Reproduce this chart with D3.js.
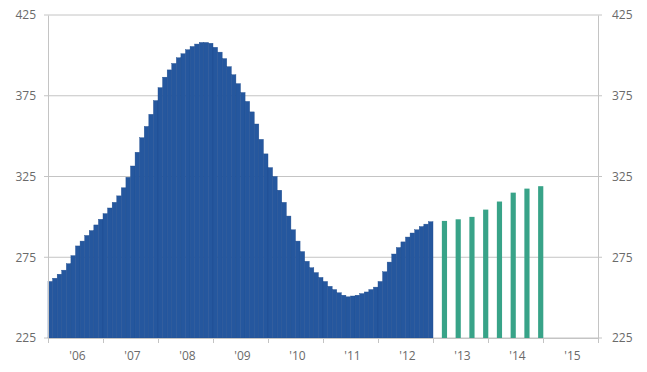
<!DOCTYPE html>
<html>
<head>
<meta charset="utf-8">
<script src="https://cdn.jsdelivr.net/npm/d3@7"></script>
<style>
  html, body { margin: 0; padding: 0; background: #fff; }
  svg { display: block; }
  .tick text { font-family: "Open Sans", "Liberation Sans", sans-serif; }
</style>
</head>
<body>
<svg id="chart" width="647" height="372"></svg>
<script>
// ---- data ----
// Monthly actuals, Jan 2006 .. Dec 2012
const actualValues = [
  260, 262, 264.5, 267, 271, 276, 282, 285, 288.5, 291.5, 295, 298.5,
  302, 305.5, 309, 313, 318, 324.5, 331.5, 340, 349, 356, 363.5, 372,
  380, 386.5, 391, 395, 398.5, 401, 403.5, 405.5, 407, 408, 408, 407.5,
  405, 402, 398, 393, 388, 382.5, 377, 371.5, 365, 357.5, 348, 339,
  330.5, 325, 316.5, 309, 300.5, 292, 285, 278.5, 272.5, 268.5, 265.5, 262.5,
  260, 257, 255, 253, 251.5, 250.5, 251, 251.5, 252.5, 253.5, 255, 256.5,
  260, 266, 272, 277, 281, 284.5, 287.5, 290, 292, 294, 295.5, 297
];
// Quarterly forecasts, 2013 Q1 .. 2014 Q4 (placed at quarter-end months)
const forecastMonths = [86, 89, 92, 95, 98, 101, 104, 107];
const forecastValues = [297.5, 298.5, 300, 304.5, 309.5, 315, 317.5, 319];
const years = [2006, 2007, 2008, 2009, 2010, 2011, 2012, 2013, 2014, 2015];
const yearLabels = ["'06", "'07", "'08", "'09", "'10", "'11", "'12", "'13", "'14", "'15"];
const yTicks = [225, 275, 325, 375, 425];

// ---- layout ----
const mLeft = 48, mRight = 598, mTop = 15, mBottom = 338;
const svg = d3.select("#chart");

const x = d3.scaleBand().domain(d3.range(120)).range([mLeft, mRight]).padding(0);
const xYear = d3.scaleLinear().domain([2006, 2016]).range([mLeft, mRight]);
const y = d3.scaleLinear().domain([225, 425]).range([mBottom, mTop]);

const gridColor = "#c4c4c4";
const textColor = "#6a6a6a";

// gridlines
svg.append("g")
  .selectAll("line")
  .data(yTicks)
  .join("line")
  .attr("x1", mLeft - 4).attr("x2", mRight + 4)
  .attr("y1", d => y(d)).attr("y2", d => y(d))
  .attr("stroke", gridColor).attr("stroke-width", 1);

// actual bars
svg.append("g")
  .selectAll("rect")
  .data(actualValues)
  .join("rect")
  .attr("x", (d, i) => x(i))
  .attr("width", x.bandwidth())
  .attr("y", d => y(d))
  .attr("height", d => y(225) - y(d))
  .attr("fill", "#25579e")
  .attr("stroke", "#1f4d8f")
  .attr("stroke-width", 0.4);

// forecast bars
svg.append("g")
  .selectAll("rect")
  .data(forecastValues)
  .join("rect")
  .attr("x", (d, i) => x(forecastMonths[i]) - 0.3)
  .attr("width", x.bandwidth() + 0.6)
  .attr("y", d => y(d))
  .attr("height", d => y(225) - y(d))
  .attr("fill", "#38a388");

// left axis
const yAxisL = d3.axisLeft(y).tickValues(yTicks).tickSize(0).tickPadding(12);
const gL = svg.append("g").attr("transform", `translate(${mLeft},0)`).call(yAxisL);
gL.select(".domain").attr("stroke", gridColor);
gL.selectAll("text").attr("fill", textColor).attr("font-size", 12);

// right axis
const yAxisR = d3.axisRight(y).tickValues(yTicks).tickSize(0).tickPadding(14);
const gR = svg.append("g").attr("transform", `translate(${mRight},0)`).call(yAxisR);
gR.select(".domain").attr("stroke", gridColor);
gR.selectAll("text").attr("fill", textColor).attr("font-size", 12);

// bottom axis: ticks at year boundaries
const xAxis = d3.axisBottom(xYear).tickValues(d3.range(2006, 2017)).tickSize(5).tickFormat("");
const gX = svg.append("g").attr("transform", `translate(0,${mBottom})`).call(xAxis);
gX.select(".domain").attr("stroke", gridColor);
gX.selectAll(".tick line").attr("stroke", gridColor);

// year labels centred in each year
svg.append("g")
  .selectAll("text")
  .data(years)
  .join("text")
  .attr("x", d => xYear(d + 0.5) + 2)
  .attr("y", 360)
  .attr("text-anchor", "middle")
  .attr("font-family", "'Open Sans', 'Liberation Sans', sans-serif")
  .attr("font-size", 12)
  .attr("fill", textColor)
  .text((d, i) => yearLabels[i]);
</script>
</body>
</html>
